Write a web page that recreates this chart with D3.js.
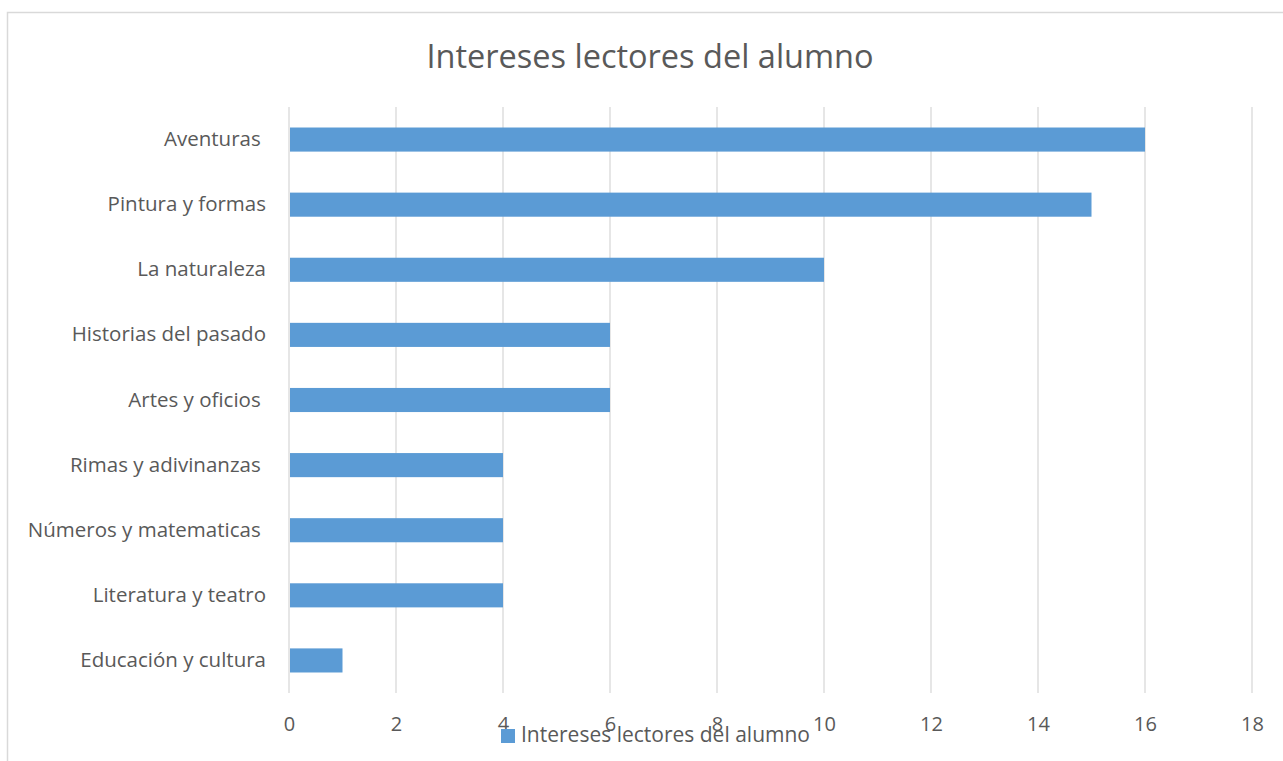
<!DOCTYPE html>
<html>
<head>
<meta charset="utf-8">
<script src="https://cdn.jsdelivr.net/npm/d3@7"></script>
<style>
  body { margin: 0; background: #fff; }
  text { font-family: "Open Sans", Lato, sans-serif; fill: #595959; white-space: pre; }
</style>
</head>
<body>
<div id="chart"></div>
<script>
// data
var categories = ["Aventuras ", "Pintura y formas", "La naturaleza", "Historias del pasado",
  "Artes y oficios ", "Rimas y adivinanzas ", "Números y matematicas ", "Literatura y teatro",
  "Educación y cultura"];
var values = [16, 15, 10, 6, 6, 4, 4, 4, 1];
var xTicks = [0, 2, 4, 6, 8, 10, 12, 14, 16, 18];
var seriesName = "Intereses lectores del alumno";
var title = "Intereses lectores del alumno";

var W = 1283, H = 761;
var margin = {top: 107, right: 31, bottom: 68, left: 289},
    width = W - margin.left - margin.right,
    height = H - margin.top - margin.bottom;

var svg = d3.select("#chart")
  .append("svg")
    .attr("width", W)
    .attr("height", H);

// chart border
svg.append("rect")
  .attr("x", 7.5).attr("y", 12.5)
  .attr("width", W + 20).attr("height", H + 20)
  .attr("fill", "none")
  .attr("stroke", "#d9d9d9")
  .attr("stroke-width", 1.5);

svg.append("text")
  .attr("x", 650)
  .attr("y", 68)
  .attr("text-anchor", "middle")
  .style("font-size", "32.5px")
  .text(title);

var g = svg.append("g")
  .attr("transform", "translate(" + margin.left + "," + margin.top + ")");

var x = d3.scaleLinear().domain([0, 18]).range([0, 18 * 53.5]);
var y = d3.scaleBand().domain(categories).range([0, height]).paddingInner(0.63).paddingOuter(0.315);

// gridlines
g.append("g")
  .selectAll("line")
  .data(xTicks)
  .enter().append("line")
    .attr("x1", function(d) { return x(d); })
    .attr("x2", function(d) { return x(d); })
    .attr("y1", 0)
    .attr("y2", height)
    .attr("stroke", "#d9d9d9")
    .attr("stroke-width", 1.3);

// bars
g.selectAll(".bar")
  .data(values)
  .enter().append("rect")
    .attr("class", "bar")
    .attr("x", x(0) + 1)
    .attr("y", function(d, i) { return y(categories[i]); })
    .attr("width", function(d) { return x(d) - x(0) - 1; })
    .attr("height", y.bandwidth())
    .attr("fill", "#5b9bd5");

// x axis labels
var xAxis = g.append("g")
  .attr("transform", "translate(0," + height + ")")
  .call(d3.axisBottom(x).tickValues(xTicks).tickSize(0).tickPadding(24));
xAxis.select(".domain").remove();
xAxis.selectAll("text").style("font-size", "20px").attr("fill", "#595959");

// y axis labels
var yAxis = g.append("g")
  .call(d3.axisLeft(y).tickSize(0).tickPadding(23));
yAxis.select(".domain").remove();
yAxis.selectAll("text").style("font-size", "20.5px").attr("fill", "#595959");

// legend
var legend = svg.append("g").attr("transform", "translate(501,729)");
legend.append("rect")
  .attr("width", 14).attr("height", 14)
  .attr("fill", "#5b9bd5");
legend.append("text")
  .attr("x", 20)
  .attr("y", 6)
  .attr("dy", "0.35em")
  .style("font-size", "21px")
  .text(seriesName);
</script>
</body>
</html>
